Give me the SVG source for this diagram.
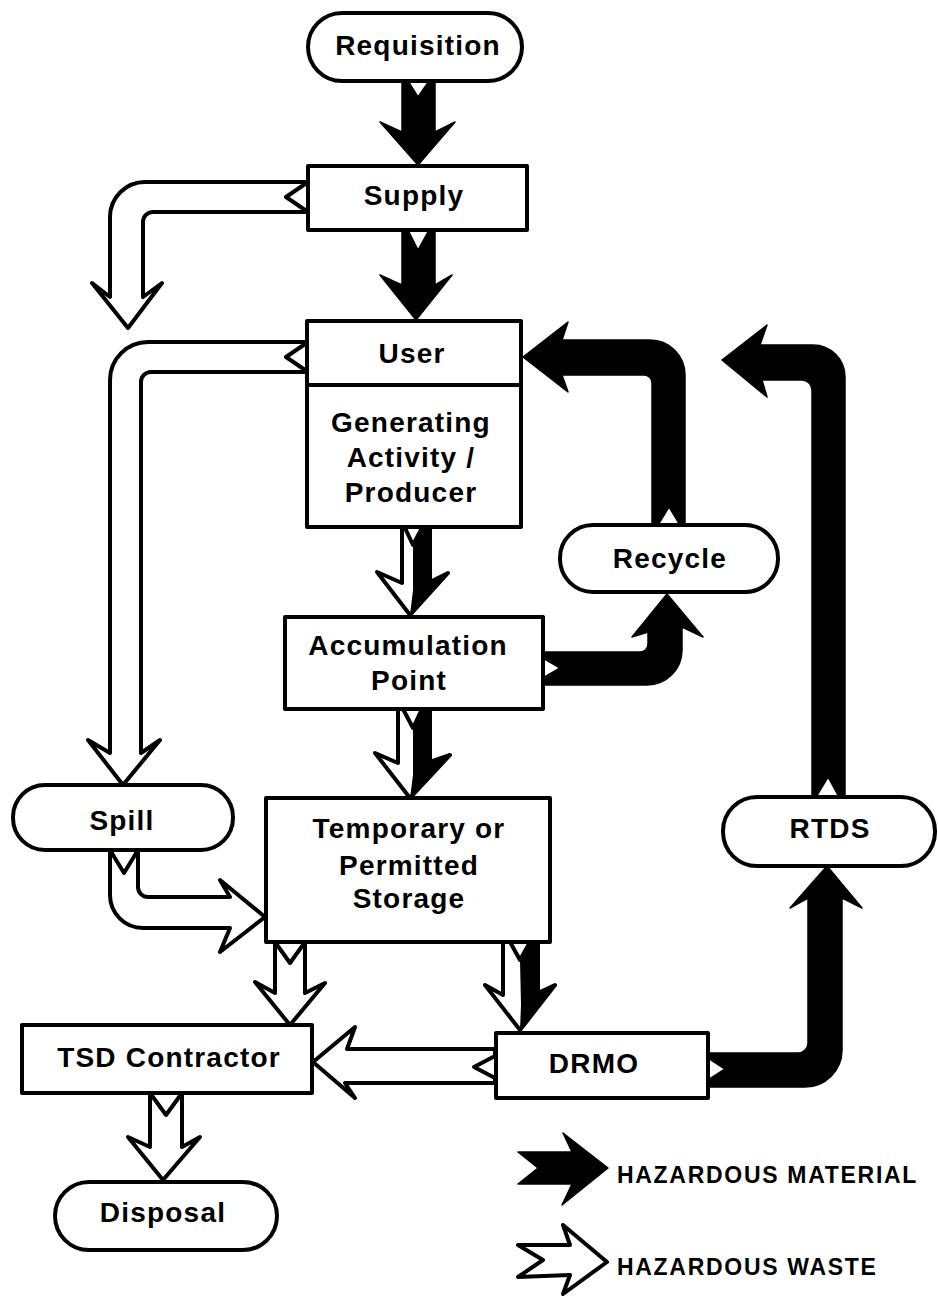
<svg xmlns="http://www.w3.org/2000/svg" width="938" height="1296" viewBox="0 0 938 1296">
  <style>
    .box { fill: #fff; stroke: #000; stroke-width: 4; stroke-linejoin: round; }
    .lbl { font-family: "Liberation Sans", Arial, Helvetica, sans-serif; font-weight: bold; font-size: 28px; letter-spacing: 1.2px; text-anchor: middle; fill: #000; }
    .key { font-family: "Liberation Sans", Arial, Helvetica, sans-serif; font-weight: bold; font-size: 23px; letter-spacing: 1.7px; fill: #000; }
    .mat { fill: #000; stroke: #000; stroke-width: 1.5; stroke-linejoin: round; }
    .waste { fill: #fff; stroke: #000; stroke-width: 4; stroke-linejoin: round; }
    .half { fill: #000; stroke: none; }
  </style>

  <!-- flow arrows -->
  <g id="connectors">
    <!-- Requisition -> Supply (material) -->
    <path class="mat" d="M402,81 L408,81 L418,97 L429,81 L435,81 L435,132 L455,122 L418,165 L380,122 L402,132 Z"/>
    <!-- Supply -> User (material) -->
    <path class="mat" d="M402,230 L408,230 L418,250 L429,230 L435,230 L435,285 L452,275 L416,320 L380,275 L402,285 Z"/>
    <!-- Supply -> waste out (left, down) -->
    <path class="waste" d="M308,182 L145,182 A35,35 0 0 0 110,217 L110,297 L92,283 L128,328 L162,283 L143,297 L143,222 A10,10 0 0 1 153,212 L308,212 L286,197 Z"/>
    <!-- User -> Spill (waste) -->
    <path class="waste" d="M308,342 L148,342 A38,38 0 0 0 110,380 L110,753 L88,740 L123,785 L160,740 L141,753 L141,382 A10,10 0 0 1 151,372 L308,372 L286,357 Z"/>
    <!-- Recycle -> User (material) -->
    <path class="mat" d="M652,525 L652,383 A8,8 0 0 0 644,375 L562,375 L568,392 L523,357 L568,322 L562,340 L650,340 A35,35 0 0 1 685,375 L685,525 L680,525 L669,507 L658,525 Z"/>
    <!-- RTDS -> User (material) -->
    <path class="mat" d="M812,797 L812,390 A10,10 0 0 0 802,380 L762,380 L767,397 L722,360 L767,325 L760,345 L813,345 A32,32 0 0 1 845,377 L845,797 L839,797 L828,777 L816,797 Z"/>
    <!-- Accumulation Point -> Recycle (material) -->
    <path class="mat" d="M543,652 L640,652 A8,8 0 0 0 648,644 L648,632 L632,637 L667,594 L703,637 L682,627 L682,650 A35,35 0 0 1 647,685 L543,685 L543,678 L560,668 L543,658 Z"/>
    <!-- DRMO -> RTDS (material) -->
    <path class="mat" d="M708,1053 L798,1053 A10,10 0 0 0 808,1043 L808,898 L790,908 L827,866 L862,908 L842,898 L842,1050 A37,37 0 0 1 805,1087 L708,1087 L708,1080 L725,1069 L708,1058 Z"/>

    <!-- User -> Accumulation Point (waste + material) -->
    <path class="waste" d="M402,528 L402,583 L377,572 L410,615 L448,573 L430,582 L430,528 L422,528 L413,545 L405,528 Z"/>
    <path class="half" d="M413,545 L422,528 L431,528 L431,582 L448,573 L410,615 L413,590 Z"/>
    <!-- Accumulation Point -> Storage (waste + material) -->
    <path class="waste" d="M398,709 L398,763 L375,753 L410,798 L450,755 L430,762 L430,709 L422,709 L413,728 L403,709 Z"/>
    <path class="half" d="M413,728 L422,709 L431,709 L431,762 L450,755 L410,798 L413,775 Z"/>
    <!-- Storage -> DRMO (waste + material) -->
    <path class="waste" d="M503,942 L503,995 L485,985 L520,1030 L555,985 L538,993 L538,942 L530,942 L520,960 L510,942 Z"/>
    <path class="half" d="M520,960 L530,942 L539,942 L539,993 L555,985 L520,1030 L521,1005 Z"/>

    <!-- Spill -> Storage (waste) -->
    <path class="waste" d="M110,850 L110,895 A33,33 0 0 0 143,928 L230,928 L220,952 L265,917 L220,880 L230,897 L148,897 A10,10 0 0 1 138,887 L138,850 L124,873 Z"/>
    <!-- Storage -> TSD Contractor (waste) -->
    <path class="waste" d="M275,942 L275,993 L255,982 L290,1025 L325,983 L305,993 L305,942 L290,963 Z"/>
    <!-- DRMO -> TSD Contractor (waste) -->
    <path class="waste" d="M495,1049 L347,1049 L355,1027 L313,1062 L355,1098 L345,1083 L495,1083 L495,1078 L474,1067 L495,1056 Z"/>
    <!-- TSD Contractor -> Disposal (waste) -->
    <path class="waste" d="M150,1093 L150,1147 L128,1137 L163,1180 L200,1137 L182,1147 L182,1093 L166,1115 Z"/>
  </g>

  <!-- nodes -->
  <g id="requisition">
    <rect class="box" x="308" y="13" width="214" height="68" rx="34"/>
    <text class="lbl" x="418" y="55">Requisition</text>
  </g>
  <g id="supply">
    <rect class="box" x="308" y="166" width="219" height="64"/>
    <text class="lbl" x="414" y="205">Supply</text>
  </g>
  <g id="user">
    <rect class="box" x="307" y="321" width="214" height="206"/>
    <line x1="307" y1="385" x2="521" y2="385" stroke="#000" stroke-width="4"/>
    <text class="lbl" x="412" y="363">User</text>
    <text class="lbl" x="411" y="432">Generating</text>
    <text class="lbl" x="411" y="467">Activity /</text>
    <text class="lbl" x="411" y="502">Producer</text>
  </g>
  <g id="accumulation">
    <rect class="box" x="285" y="617" width="258" height="92"/>
    <text class="lbl" x="408" y="655">Accumulation</text>
    <text class="lbl" x="409" y="690">Point</text>
  </g>
  <g id="recycle">
    <rect class="box" x="560" y="525" width="218" height="67" rx="33"/>
    <text class="lbl" x="670" y="568">Recycle</text>
  </g>
  <g id="spill">
    <rect class="box" x="13" y="785" width="220" height="65" rx="32"/>
    <text class="lbl" x="122" y="830">Spill</text>
  </g>
  <g id="storage">
    <rect class="box" x="266" y="798" width="284" height="144"/>
    <text class="lbl" x="409" y="838">Temporary or</text>
    <text class="lbl" x="409" y="875">Permitted</text>
    <text class="lbl" x="409" y="908">Storage</text>
  </g>
  <g id="rtds">
    <rect class="box" x="723" y="797" width="212" height="69" rx="34"/>
    <text class="lbl" x="830" y="838">RTDS</text>
  </g>
  <g id="tsd">
    <rect class="box" x="22" y="1025" width="290" height="68"/>
    <text class="lbl" x="169" y="1067">TSD Contractor</text>
  </g>
  <g id="drmo">
    <rect class="box" x="496" y="1033" width="212" height="65"/>
    <text class="lbl" x="594" y="1073">DRMO</text>
  </g>
  <g id="disposal">
    <rect class="box" x="55" y="1182" width="222" height="68" rx="34"/>
    <text class="lbl" x="163" y="1222">Disposal</text>
  </g>

  <!-- key -->
  <g id="legend">
    <path class="mat" d="M518,1152 L572,1152 L563,1133 L608,1168 L562,1205 L572,1184 L518,1184 L538,1168 Z"/>
    <text class="key" x="617" y="1183">HAZARDOUS MATERIAL</text>
    <path class="waste" d="M518,1245 L570,1245 L563,1225 L607,1262 L563,1294 L570,1275 L518,1277 L543,1260 Z"/>
    <text class="key" x="617" y="1275">HAZARDOUS WASTE</text>
  </g>
</svg>
